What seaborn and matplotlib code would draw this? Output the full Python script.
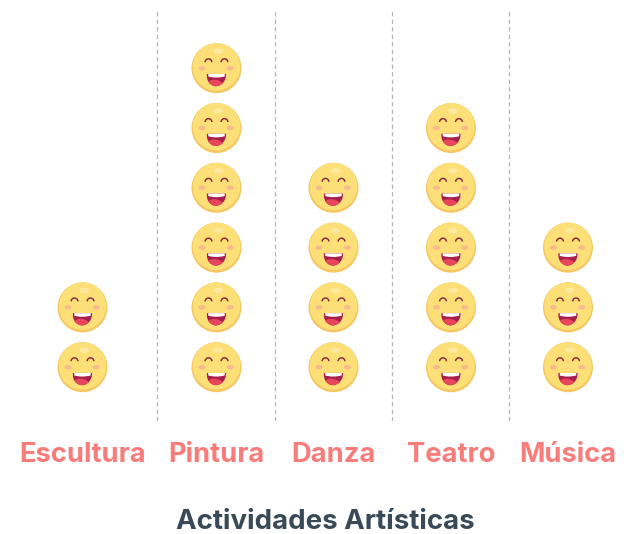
import numpy as np
import pandas as pd
import matplotlib
matplotlib.use("Agg")
import matplotlib.pyplot as plt
from matplotlib.path import Path
from matplotlib.transforms import Affine2D
import seaborn as sns

# Data
categories = ["Escultura", "Pintura", "Danza", "Teatro", "Música"]
counts = [2, 6, 4, 5, 3]
x_title = "Actividades Artísticas"

# Layout (figure pixels)
W, H = 628, 534
column_centers = [82.5, 216.5, 333.5, 451, 568]
separators = [157, 275, 392, 509]
AX_TOP, AX_BOTTOM = 11, 421
ROW_STEP = 59.8
ROW_ZERO_PX = 427
FACE_DIAM_PX = 50

sns.set_theme(style="white")
plt.rcParams["font.family"] = ["Inter", "DejaVu Sans"]

fig = plt.figure(figsize=(W / 100, H / 100), dpi=100, facecolor="white")
ax = fig.add_axes([0, 1 - AX_BOTTOM / H, 1, (AX_BOTTOM - AX_TOP) / H])
ax.set_xlim(0, W)
ax.set_ylim((ROW_ZERO_PX - AX_BOTTOM) / ROW_STEP, (ROW_ZERO_PX - AX_TOP) / ROW_STEP)

df = pd.DataFrame({
    "category": np.repeat(categories, counts),
    "x": np.repeat(column_centers, counts),
    "unit": np.concatenate([np.arange(1, c + 1) for c in counts]),
})

ANCHOR = Path([[1, 1]], [Path.MOVETO])

def anchored(*paths):
    return Path.make_compound_path(ANCHOR, *paths)

def ell(cx, cy, rx, ry, rot=0):
    return Path.unit_circle().transformed(Affine2D().scale(rx, ry).rotate_deg(rot).translate(cx, cy))

def eye(cx, cy):
    r_o, r_i = 0.165, 0.105
    k = 0.5523
    v = [(-r_o, 0), (-r_o, k * r_o), (-k * r_o, r_o), (0, r_o), (k * r_o, r_o), (r_o, k * r_o), (r_o, 0),
         (r_i, 0), (r_i, k * r_i), (k * r_i, r_i), (0, r_i), (-k * r_i, r_i), (-r_i, k * r_i), (-r_i, 0), (-r_o, 0)]
    c = [Path.MOVETO] + [Path.CURVE4] * 6 + [Path.LINETO] + [Path.CURVE4] * 6 + [Path.CLOSEPOLY]
    return Path(np.array(v) + [cx, cy], c)

mouth = Path([(-.38, -.23), (.38, -.23), (.40, -.50), (.20, -.72), (-.02, -.72), (-.24, -.72), (-.42, -.50), (-.38, -.23), (-.38, -.23)],
             [Path.MOVETO, Path.LINETO, Path.CURVE4, Path.CURVE4, Path.CURVE4, Path.CURVE4, Path.CURVE4, Path.CURVE4, Path.CLOSEPOLY])
teeth = Path([(-.33, -.23), (.33, -.23), (.33, -.33), (.33, -.33), (.10, -.39), (-.12, -.39), (-.33, -.33), (-.33, -.23)],
             [Path.MOVETO, Path.LINETO, Path.LINETO, Path.LINETO, Path.CURVE4, Path.CURVE4, Path.CURVE4, Path.CLOSEPOLY])
tongue = Path([(-.33, -.54), (-.20, -.42), (.06, -.42), (.26, -.60), (.14, -.70), (-.02, -.72), (-.20, -.72), (-.33, -.54)],
              [Path.MOVETO, Path.CURVE4, Path.CURVE4, Path.CURVE4, Path.CURVE3, Path.CURVE3, Path.CURVE3, Path.CURVE3])

layers = [
    (anchored(ell(0, 0, 1, 1)), "#F5C763"),
    (anchored(ell(0, .05, .95, .95)), "#FDDF78"),
    (anchored(ell(.07, .68, .19, .11)), "#FDE99E"),
    (anchored(ell(-.58, .0, .14, .09), ell(.55, .0, .14, .09)), "#F7BA8C"),
    (anchored(eye(-.32, .24), eye(.32, .24)), "#8A2A3E"),
    (anchored(mouth), "#A81E4C"),
    (anchored(tongue), "#E8465A"),
    (anchored(teeth), "#FFFFFF"),
]

for sep in separators:
    ax.axvline(sep, color="#B5B5B5", lw=0.9, ls=(0, (3.5, 2.5)), zorder=1)

size = (FACE_DIAM_PX * 72 / 100) ** 2
for i, (path, color) in enumerate(layers):
    sns.scatterplot(data=df, x="x", y="unit", marker=path, s=size, color=color,
                    linewidth=0, edgecolor="none", ax=ax, zorder=3 + i, legend=False, clip_on=False)

sns.despine(ax=ax, left=True, bottom=True, top=True, right=True)
ax.set_yticks([])
ax.set_ylabel("")
ax.set_xticks(column_centers)
ax.set_xticklabels(categories, fontsize=19.7, fontweight="bold", color="#F87C7A")
ax.tick_params(axis="x", length=0, pad=15)
ax.set_xlabel(x_title, fontsize=19.9, fontweight="bold", color="#3A4957")
ax.xaxis.set_label_coords(325 / W, -(528.8 - AX_BOTTOM) / (AX_BOTTOM - AX_TOP))
ax.xaxis.label.set_verticalalignment("baseline")
ax.grid(False)

fig.savefig("out.png", dpi=100, facecolor="white")
